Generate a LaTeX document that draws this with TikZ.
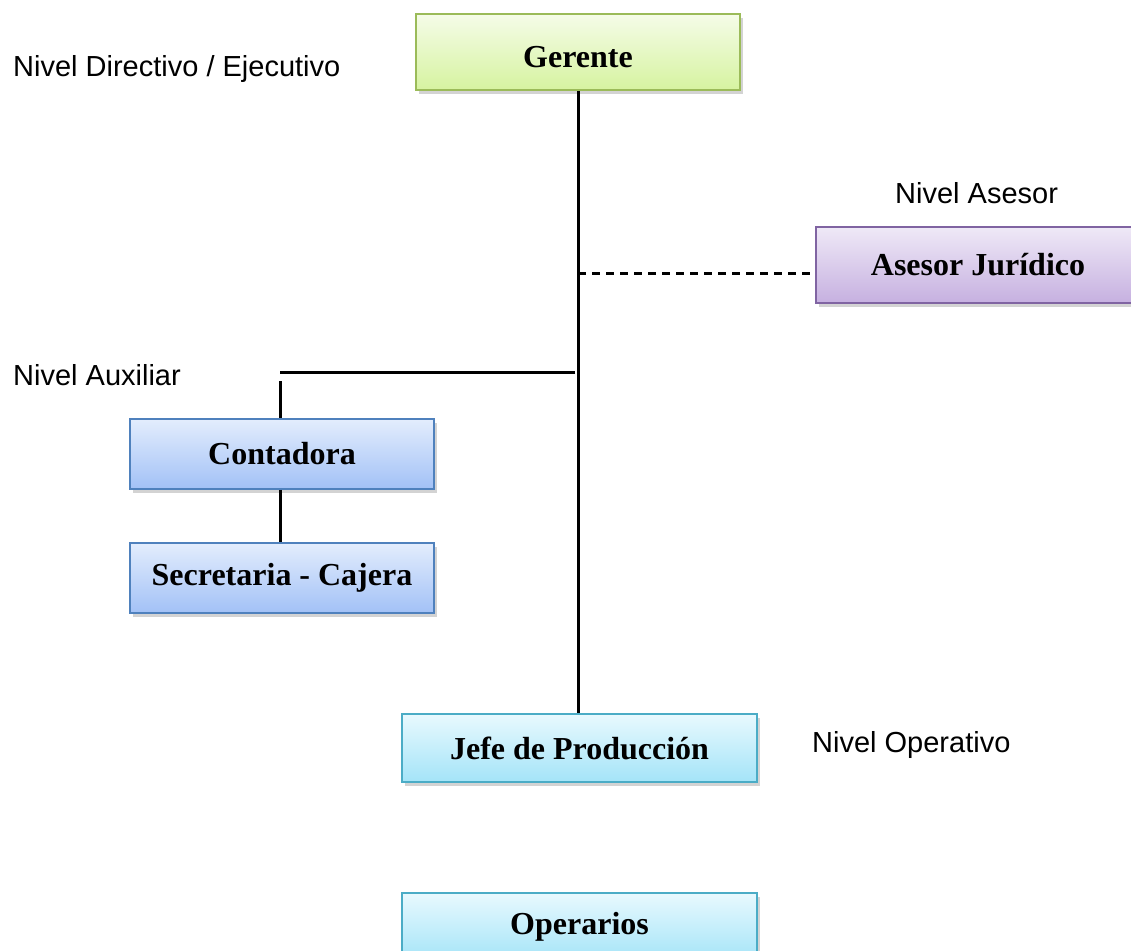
\documentclass[tikz,border=0pt]{standalone}
\usepackage{fontspec}
\setmainfont{Liberation Serif}
\newfontfamily\arialf{Liberation Sans}
\usepackage{tikz}
\usetikzlibrary{shadows}

\definecolor{gerTop}{HTML}{F5FCE8}
\definecolor{gerBot}{HTML}{D6F3A0}
\definecolor{gerLine}{HTML}{9BBB59}
\definecolor{aseTop}{HTML}{EFE9F7}
\definecolor{aseBot}{HTML}{C6B0E0}
\definecolor{aseLine}{HTML}{8064A2}
\definecolor{auxTop}{HTML}{E3EDFD}
\definecolor{auxBot}{HTML}{A2C1F6}
\definecolor{auxLine}{HTML}{4F81BD}
\definecolor{opeTop}{HTML}{E8F9FE}
\definecolor{opeBot}{HTML}{A4E4F8}
\definecolor{opeLine}{HTML}{4BACC6}

\begin{document}
\begin{tikzpicture}[x=1pt, y=-1pt,
                    main/.style = {draw, line width=1.5pt, rectangle, inner sep=0pt,
                                   font=\fontsize{32}{38}\selectfont\bfseries,
                                   drop shadow={shadow xshift=3pt, shadow yshift=-4pt, opacity=0.35}},
                    ger/.style = {main, draw=gerLine, top color=gerTop, bottom color=gerBot},
                    ase/.style = {main, draw=aseLine, top color=aseTop, bottom color=aseBot},
                    aux/.style = {main, draw=auxLine, top color=auxTop, bottom color=auxBot},
                    ope/.style = {main, draw=opeLine, top color=opeTop, bottom color=opeBot},
                    nivel/.style = {anchor=base west, inner sep=0pt, font=\arialf\fontsize{29}{34}\selectfont},
                    con/.style = {line width=3pt}]
                        \useasboundingbox (0,0) rectangle (1131,950);

                        \node[ger, minimum width=324pt, minimum height=76pt, text height=31pt, text depth=0pt] (G) at (578,52) {Gerente};
                        \node[ase, minimum width=324pt, minimum height=76pt] (A) at (978,265) {Asesor Jurídico};
                        \node[aux, minimum width=304pt, minimum height=70pt] (C) at (282,454) {Contadora};
                        \node[aux, minimum width=304pt, minimum height=70pt] (S) at (282,578) {Secretaria - Cajera};
                        \node[ope, minimum width=355pt, minimum height=68pt] (J) at (579.5,748) {Jefe de Producción};
                        \node[ope, minimum width=355pt, minimum height=68pt] (O) at (579.5,927) {Operarios};

                        \node[nivel] (LD) at (13,77) {Nivel Directivo / Ejecutivo};
                        \node[nivel] (LA) at (895,203) {Nivel Asesor};
                        \node[nivel] (LX) at (13,385) {Nivel Auxiliar};
                        \node[nivel] (LO) at (812,752) {Nivel Operativo};

                        \coordinate (M1) at (578,273);
                        \coordinate (M2) at (575,372);
                        \coordinate (K1) at (280,372);
                        \coordinate (K2) at (280,381);

                        \draw[con] (G.south) -- (G.south |- J.north);
                        \draw[con, dash pattern=on 8pt off 6pt] (M1) -- (A.west |- M1);
                        \draw[con] (M2) -- (K1);
                        \draw[con] (K2) -- (C.north -| K2);
                        \draw[con] (C.south -| K2) -- (S.north -| K2);
                    \end{tikzpicture}
\end{document}
